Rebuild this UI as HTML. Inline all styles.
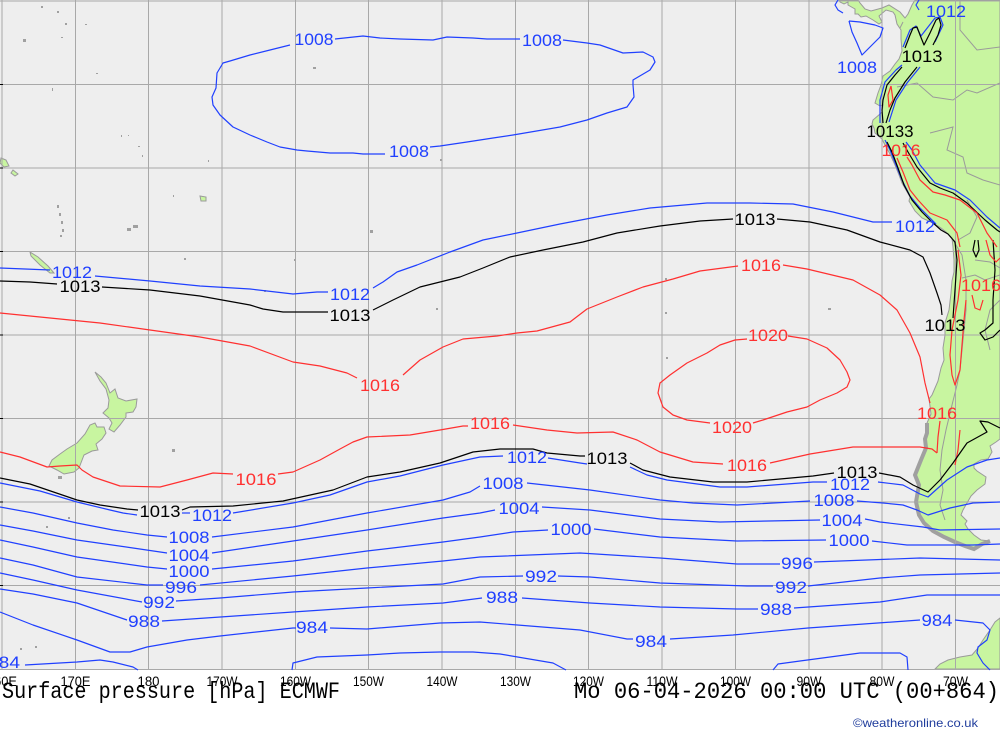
<!DOCTYPE html>
<html><head><meta charset="utf-8"><style>
html,body{margin:0;padding:0;background:#fff;}
svg{display:block;}
.g{stroke:#a8a8a8;stroke-width:1;fill:none;}
.b{stroke:#2040ff;stroke-width:1.2;fill:none;stroke-linejoin:round;}
.k{stroke:#000;stroke-width:1.2;fill:none;stroke-linejoin:round;}
.r{stroke:#ff3030;stroke-width:1.2;fill:none;stroke-linejoin:round;}
.c{stroke:#9a9a9a;stroke-width:1;fill:none;}
.lb{fill:#2040ff;font-family:"Liberation Sans",sans-serif;font-size:17px;}
.lk{fill:#000;font-family:"Liberation Sans",sans-serif;font-size:17px;}
.lr{fill:#ff3030;font-family:"Liberation Sans",sans-serif;font-size:17px;}
.tk{fill:#000;font-family:"Liberation Sans",sans-serif;font-size:14px;}
</style></head><body>
<svg width="1000" height="733" viewBox="0 0 1000 733" xmlns="http://www.w3.org/2000/svg">
<rect x="0" y="0" width="1000" height="733" fill="#fff"/>
<rect x="0" y="0" width="1000" height="670" fill="#eeeeee"/>

<!-- land -->
<g fill="#c8f5a0" stroke="#9a9a9a" stroke-width="1">
<polygon points="839,0 840,2 844,4 848,2 848,5 855,9 855,14 858,14 861,17 866,16 873,20 879,24 882,22 879,16 886,10 893,12 895,15 897,24 901,30 901,39 902,51 899,59 895,64 890,71 883,76 881,85 878,93 875,103 880,106 883,105 882,112 880,114 873,120 872,124 874,128 875,133 882,139 885,145 890,154 895,165 899,175 902,183 906,190 910,197 909,201 915,211 922,218 933,223 941,228 946,232 952,238 953,247 954,260 954,272 952,281 951,293 949,310 945,323 945,335 943,348 944,360 941,368 938,381 935,388 932,395 929,399 930,406 931,414 927,423 927,433 925,439 926,448 921,460 915,475 919,485 916,502 919,515 924,523 933,531 944,537 955,542 965,546 974,549 982,544 990,541 981,540 974,535 968,529 965,524 967,521 961,515 963,510 967,503 971,496 977,490 985,484 986,477 977,471 974,468 974,464 981,460 988,459 992,452 990,446 996,442 1000,439 1000,0 915,0 912,5 908,14 905,18 900,12 889,5 882,8 871,11 865,9 860,3 858,0"/>
<polygon points="95,372 101,377 106,383 110,393 115,389 118,398 126,401 137,399 136,407 133,412 126,413 126,417 120,425 114,432 109,429 112,423 109,418 103,413 108,408 109,400 106,389 100,381"/>
<polygon points="95,423 97,427 104,427 106,433 102,439 96,444 98,450 92,451 84,455 79,468 74,472 64,474 57,470 49,466 52,460 60,454 67,449 77,443 85,434 90,425"/>
<polygon points="1000,618 995,622 990,630 983,640 978,648 972,655 960,657 948,660 940,664 935,669 1000,669"/>
<polygon points="30,252 38,257 48,266 54,273 50,273 40,265 31,256"/>
<polygon points="1,158 6,160 9,166 4,167 0,163"/>
<polygon points="13,170 18,174 15,176 11,173"/>
<polygon points="200,196 206,197 206,201 201,201"/>
</g>
<polyline points="927,423 927,433 925,439 926,448 921,460 915,475 919,485 916,502 919,515 924,523 933,531 944,537 955,542 965,546 974,549 982,544 990,541" fill="none" stroke="#a0a0a0" stroke-width="4"/>
<g fill="#a0a0a0">
<rect x="41" y="6" width="2" height="2"/><rect x="57" y="11" width="2" height="2"/><rect x="65" y="23" width="2" height="2"/><rect x="61" y="37" width="2" height="1"/><rect x="23" y="39" width="3" height="3"/><rect x="85" y="24" width="2" height="1"/><rect x="52" y="88" width="1" height="3"/><rect x="96" y="73" width="2" height="1"/><rect x="121" y="135" width="1" height="2"/><rect x="128" y="135" width="1" height="1"/><rect x="138" y="146" width="2" height="1"/><rect x="142" y="155" width="1" height="2"/><rect x="208" y="160" width="1" height="2"/><rect x="173" y="195" width="1" height="2"/>
<rect x="57" y="205" width="2" height="3"/><rect x="59" y="213" width="2" height="3"/><rect x="61" y="221" width="2" height="3"/><rect x="62" y="229" width="2" height="3"/><rect x="60" y="235" width="2" height="2"/>
<rect x="127" y="228" width="4" height="3"/><rect x="133" y="225" width="5" height="3"/><rect x="184" y="258" width="2" height="2"/><rect x="294" y="259" width="2" height="2"/><rect x="370" y="230" width="3" height="3"/><rect x="440" y="159" width="2" height="2"/>
<rect x="313" y="67" width="3" height="2"/><rect x="172" y="449" width="3" height="3"/><rect x="58" y="476" width="4" height="3"/><rect x="46" y="526" width="2" height="2"/><rect x="68" y="517" width="2" height="2"/><rect x="35" y="646" width="2" height="2"/><rect x="20" y="648" width="2" height="2"/>
<rect x="264" y="290" width="2" height="2"/><rect x="436" y="308" width="2" height="2"/><rect x="665" y="312" width="2" height="2"/><rect x="665" y="278" width="2" height="2"/><rect x="828" y="308" width="3" height="2"/><rect x="666" y="357" width="2" height="2"/>
</g>
<!-- borders -->
<g class="c">
<polyline points="953,240 962,255 966,280 966,310 963,340 960,370 957,385 952,405 946,430 942,450 940,470 943,490 940,505 945,520"/>
<polyline points="962,278 975,275 985,280 1000,275"/>
<polyline points="975,260 990,262 1000,268"/>
<polyline points="967,200 977,217 970,233 958,240"/>
<polyline points="930,133 953,127 947,150 963,157 967,173 983,180 1000,185"/>
<polyline points="897,87 917,83 933,97 953,100 967,90 977,93 1000,83"/>
<polyline points="960,0 960,30 977,50 1000,47"/>
<polyline points="903,22 900,28"/>
<polyline points="1000,300 990,310 985,330 990,350"/>
</g>

<!-- grid -->
<g class="g">
<line x1="2" y1="0" x2="2" y2="670"/><line x1="75.5" y1="0" x2="75.5" y2="670"/><line x1="148.5" y1="0" x2="148.5" y2="670"/><line x1="222" y1="0" x2="222" y2="670"/><line x1="295.5" y1="0" x2="295.5" y2="670"/><line x1="368.5" y1="0" x2="368.5" y2="670"/><line x1="442" y1="0" x2="442" y2="670"/><line x1="515.5" y1="0" x2="515.5" y2="670"/><line x1="588.5" y1="0" x2="588.5" y2="670"/><line x1="662" y1="0" x2="662" y2="670"/><line x1="735.5" y1="0" x2="735.5" y2="670"/><line x1="809" y1="0" x2="809" y2="670"/><line x1="882" y1="0" x2="882" y2="670"/><line x1="955.5" y1="0" x2="955.5" y2="670"/>
<line x1="0" y1="1" x2="1000" y2="1"/><line x1="0" y1="84.5" x2="1000" y2="84.5"/><line x1="0" y1="168" x2="1000" y2="168"/><line x1="0" y1="251.5" x2="1000" y2="251.5"/><line x1="0" y1="335" x2="1000" y2="335"/><line x1="0" y1="418.5" x2="1000" y2="418.5"/><line x1="0" y1="502" x2="1000" y2="502"/><line x1="0" y1="585.5" x2="1000" y2="585.5"/><line x1="0" y1="669.5" x2="1000" y2="669.5"/>
</g>
<g stroke="#000" stroke-width="1">
<line x1="0" y1="84.5" x2="3" y2="84.5"/><line x1="0" y1="168" x2="3" y2="168"/><line x1="0" y1="251.5" x2="3" y2="251.5"/><line x1="0" y1="335" x2="3" y2="335"/><line x1="0" y1="418.5" x2="3" y2="418.5"/><line x1="0" y1="502" x2="3" y2="502"/><line x1="0" y1="585.5" x2="3" y2="585.5"/>
</g>

<!-- upper 1008 loop -->
<polyline class="b" points="335,39 363,36 380,38 400,39 433,40 447,37 473,38 487,39 520,39"/>
<polyline class="b" points="563,40 587,43 600,45 623,53 643,52 653,57 655,62 650,70 633,80 633,85 634,97 627,107 607,113 587,120 560,127 513,135 493,138 467,142 440,146 430,147"/>
<polyline class="b" points="385,154 363,154 353,153 330,153 307,151 297,150 280,147 267,142 250,135 233,127 220,115 213,105 212,97 216,88 217,73 223,63 230,61 250,55 270,50 290,45"/>
<!-- upper 1012 -->
<polyline class="b" points="0,268 50,270"/>
<polyline class="b" points="95,276 150,281 200,286 250,289 293,294 317,292 328,292"/>
<polyline class="b" points="373,288 383,282 397,272 417,265 450,252 483,240 517,233 560,224 607,215 650,208 707,203 750,203 793,204 833,212 873,222 892,222"/>
<polyline class="b" points="936,224 928,216 920,208 910,196 902,180 896,165 890,150 885,140"/>
<polyline class="b" points="1000,228 987,217 970,200 955,190 935,183 920,165 912,150 906,142"/>
<polyline class="b" points="880,123 880,100 885,82 896,70 902,65"/>
<polyline class="b" points="889,122 896,100 907,83 920,67"/>
<polyline class="b" points="903,47 910,30 916,26 921,36 935,18 940,17 943,25 935,42"/>
<polyline class="b" points="849,21 860,22 875,25 883,28 880,37 870,47 862,55 857,43 852,32 849,21"/>
<polyline class="b" points="838,0 835,5 838,10 843,13"/>
<polyline class="b" points="919,0 916,5 919,10"/>
<!-- upper 1013 -->
<polyline class="k" points="0,281 30,282 57,284"/>
<polyline class="k" points="102,287 150,290 200,296 250,305 263,309 283,312 328,312"/>
<polyline class="k" points="373,310 393,300 420,287 440,282 460,277 483,268 510,257 543,250 583,242 617,233 660,226 700,221 733,219"/>
<polyline class="k" points="777,219 810,222 847,230 880,242 910,250 923,257 930,273 937,293 941,305 942,315"/>
<polyline class="k" points="953,318 955,290 957,260 955,242 948,234 941,230 932,222 922,212 912,200 904,185 898,168 892,152 887,142"/>
<polyline class="k" points="1000,232 997,230 985,220 967,203 953,193 940,188 930,183 917,167 908,152 903,143"/>
<polyline class="k" points="883,123 882,110 883,100 887,85 895,75 902,67"/>
<polyline class="k" points="886,123 890,110 895,98 905,82 917,67"/>
<polyline class="k" points="905,48 910,35 913,28 917,27 920,35 924,45 930,33 936,20 939,18 941,25 938,35 933,45"/>
<polyline class="k" points="975,240 973,250 976,257 979,250 978,240"/>
<polyline class="k" points="993,240 995,270 993,300 993,323 985,330 980,333 985,340 993,337 1000,330"/>
<!-- upper 1016 -->
<polyline class="r" points="0,313 50,318 100,323 150,330 200,337 250,346 293,362 320,366 347,373 357,378"/>
<polyline class="r" points="403,375 420,360 443,347 463,339 497,336 517,333 537,331 570,322 587,309 617,297 643,287 673,279 700,271 738,266"/>
<polyline class="r" points="783,265 807,269 853,280 880,295 897,310 910,333 920,357 925,383 930,403"/>
<polyline class="r" points="940,421 938,437 937,453"/>
<polyline class="r" points="960,247 957,233 947,220 930,213 918,200 910,190 903,172 897,158"/>
<polyline class="r" points="997,247 987,233 977,213 960,200 945,195 933,192 920,180 912,165 907,157"/>
<polyline class="r" points="958,250 961,275 958,300 952,330 950,355 952,375 955,385 960,370 962,345 964,320 966,300"/>
<polyline class="r" points="972,295 975,308 980,310 983,300"/>
<polyline class="r" points="986,240 990,255 996,262 1000,258"/>
<polyline class="r" points="891,86 893,100 889,107 888,95 891,86"/>
<polyline class="r" points="960,430 958,450 955,465"/>
<!-- 1020 -->
<polyline class="r" points="788,336 807,339 827,348 840,360 847,372 850,380 847,387 837,393 820,400 807,407 787,412 763,420 753,423"/>
<polyline class="r" points="710,423 687,420 673,415 663,407 658,393 660,383 670,375 687,363 707,353 720,345 735,340 747,339"/>
<!-- lower 1016 -->
<polyline class="r" points="0,452 20,457 47,467 60,466 77,465 82,470 93,477 120,486 160,487 187,480 213,473 233,474"/>
<polyline class="r" points="278,474 293,472 320,460 340,449 353,442 367,437 410,435 440,430 463,426 468,426"/>
<polyline class="r" points="513,425 547,430 577,433 613,432 637,440 660,452 693,462 723,464"/>
<polyline class="r" points="770,463 810,454 853,447 880,447 920,447 932,449 937,453"/>
<!-- lower 1013 -->
<polyline class="k" points="0,478 30,484 77,500 100,505 127,509 138,510"/>
<polyline class="k" points="182,510 190,507 233,506 283,501 333,490 367,477 400,472 440,463 473,452 500,449 533,449 547,453 580,456 585,456"/>
<polyline class="k" points="630,463 643,470 670,477 713,482 747,482 780,479 813,476 834,473"/>
<polyline class="k" points="879,473 900,477 913,485 928,492 940,480 953,463 967,443 987,432 980,421 988,422 1000,428"/>
<!-- lower 1012 -->
<polyline class="b" points="0,483 40,491 77,502 110,510 123,513 137,515"/>
<polyline class="b" points="182,513 190,513"/>
<polyline class="b" points="233,513 293,503 330,495 367,482 400,476 443,465 480,457 503,456"/>
<polyline class="b" points="548,458 580,463 587,464"/>
<polyline class="b" points="630,467 647,475 667,480 720,487 747,487 813,482 827,482"/>
<polyline class="b" points="878,482 903,485 920,494 928,497 947,480 967,467 987,460 1000,458"/>
<!-- 1008 -->
<polyline class="b" points="0,507 33,513 77,523 113,530 147,535 167,537"/>
<polyline class="b" points="212,537 293,527 367,513 443,500 470,492 480,486"/>
<polyline class="b" points="527,483 590,490 660,500 693,503 737,505 810,501"/>
<polyline class="b" points="857,501 883,503 903,505 917,510 928,515 950,508 973,503 1000,502"/>
<!-- 1004 -->
<polyline class="b" points="0,525 33,531 77,540 133,548 167,553"/>
<polyline class="b" points="212,553 293,541 367,530 443,518 480,513 495,510"/>
<polyline class="b" points="542,507 590,510 660,519 720,522 820,520"/>
<polyline class="b" points="865,519 880,522 923,527 940,530 1000,529"/>
<!-- 1000 -->
<polyline class="b" points="0,540 33,547 77,557 147,567 167,569"/>
<polyline class="b" points="212,569 293,561 367,551 443,542 480,537 513,532 548,530"/>
<polyline class="b" points="594,529 660,537 737,541 826,540"/>
<polyline class="b" points="872,541 907,545 973,545 1000,544"/>
<!-- 996 -->
<polyline class="b" points="0,558 33,565 77,577 147,585 163,585"/>
<polyline class="b" points="200,585 293,576 367,568 443,561 480,557 580,553 660,558 737,564 780,564"/>
<polyline class="b" points="814,562 920,558 1000,560"/>
<!-- 992 -->
<polyline class="b" points="0,573 33,580 77,590 142,602"/>
<polyline class="b" points="176,601 220,598 293,592 367,588 443,584 480,577 523,576"/>
<polyline class="b" points="558,576 590,577 660,583 747,586 773,586"/>
<polyline class="b" points="808,586 880,578 920,575 1000,573"/>
<!-- 988 -->
<polyline class="b" points="0,589 33,594 77,603 127,620"/>
<polyline class="b" points="162,621 293,612 367,607 443,603 482,598"/>
<polyline class="b" points="522,598 590,603 660,607 737,609 758,609"/>
<polyline class="b" points="794,608 880,602 927,595 1000,595"/>
<!-- 984 -->
<polyline class="b" points="0,612 33,625 77,640 110,652 130,652 147,647 187,640 220,636 293,628 296,628"/>
<polyline class="b" points="330,628 367,629 440,623 480,622 580,630 627,639 633,639"/>
<polyline class="b" points="670,639 733,635 808,628 920,620"/>
<polyline class="b" points="955,620 983,623 990,630 987,640 978,647 977,653 983,663 990,670"/>
<!-- 980 -->
<polyline class="b" points="25,665 77,662 100,660 113,662 133,667 138,670"/>
<polyline class="b" points="292,670 293,663 317,657 367,655 400,653 440,652 473,652 500,654 553,663 566,670"/>
<polyline class="b" points="773,670 778,664 800,661 860,653 900,653 907,657 908,670"/>

<!-- labels -->
<g class="lb" text-anchor="middle" lengthAdjust="spacingAndGlyphs">
<text x="314" y="45" textLength="39" lengthAdjust="spacingAndGlyphs">1008</text>
<text x="542" y="46" textLength="40" lengthAdjust="spacingAndGlyphs">1008</text>
<text x="409" y="157" textLength="40" lengthAdjust="spacingAndGlyphs">1008</text>
<text x="857" y="73" textLength="40" lengthAdjust="spacingAndGlyphs">1008</text>
<text x="946" y="17" textLength="40" lengthAdjust="spacingAndGlyphs">1012</text>
<text x="72" y="278" textLength="40" lengthAdjust="spacingAndGlyphs">1012</text>
<text x="350" y="300" textLength="40" lengthAdjust="spacingAndGlyphs">1012</text>
<text x="915" y="232" textLength="40" lengthAdjust="spacingAndGlyphs">1012</text>
<text x="212" y="521" textLength="40" lengthAdjust="spacingAndGlyphs">1012</text>
<text x="527" y="463" textLength="40" lengthAdjust="spacingAndGlyphs">1012</text>
<text x="850" y="490" textLength="40" lengthAdjust="spacingAndGlyphs">1012</text>
<text x="189" y="543" textLength="41" lengthAdjust="spacingAndGlyphs">1008</text>
<text x="503" y="489" textLength="41" lengthAdjust="spacingAndGlyphs">1008</text>
<text x="834" y="506" textLength="41" lengthAdjust="spacingAndGlyphs">1008</text>
<text x="189" y="561" textLength="41" lengthAdjust="spacingAndGlyphs">1004</text>
<text x="519" y="514" textLength="41" lengthAdjust="spacingAndGlyphs">1004</text>
<text x="842" y="526" textLength="41" lengthAdjust="spacingAndGlyphs">1004</text>
<text x="189" y="577" textLength="41" lengthAdjust="spacingAndGlyphs">1000</text>
<text x="571" y="535" textLength="41" lengthAdjust="spacingAndGlyphs">1000</text>
<text x="849" y="546" textLength="41" lengthAdjust="spacingAndGlyphs">1000</text>
<text x="181" y="593" textLength="32" lengthAdjust="spacingAndGlyphs">996</text>
<text x="797" y="569" textLength="32" lengthAdjust="spacingAndGlyphs">996</text>
<text x="159" y="608" textLength="32" lengthAdjust="spacingAndGlyphs">992</text>
<text x="541" y="582" textLength="32" lengthAdjust="spacingAndGlyphs">992</text>
<text x="791" y="593" textLength="32" lengthAdjust="spacingAndGlyphs">992</text>
<text x="144" y="627" textLength="32" lengthAdjust="spacingAndGlyphs">988</text>
<text x="502" y="603" textLength="32" lengthAdjust="spacingAndGlyphs">988</text>
<text x="776" y="615" textLength="32" lengthAdjust="spacingAndGlyphs">988</text>
<text x="312" y="633" textLength="32" lengthAdjust="spacingAndGlyphs">984</text>
<text x="651" y="647" textLength="32" lengthAdjust="spacingAndGlyphs">984</text>
<text x="937" y="626" textLength="31" lengthAdjust="spacingAndGlyphs">984</text>
<text x="4" y="668" textLength="32" lengthAdjust="spacingAndGlyphs">984</text>
</g>
<rect x="836" y="465" width="42" height="13" fill="#eeeeee"/>
<g class="lk" text-anchor="middle">
<text x="80" y="292" textLength="41" lengthAdjust="spacingAndGlyphs">1013</text>
<text x="350" y="321" textLength="41" lengthAdjust="spacingAndGlyphs">1013</text>
<text x="755" y="225" textLength="41" lengthAdjust="spacingAndGlyphs">1013</text>
<text x="945" y="331" textLength="41" lengthAdjust="spacingAndGlyphs">1013</text>
<text x="922" y="62" textLength="41" lengthAdjust="spacingAndGlyphs">1013</text>
<text x="890" y="137" textLength="47" lengthAdjust="spacingAndGlyphs">10133</text>
<text x="160" y="517" textLength="41" lengthAdjust="spacingAndGlyphs">1013</text>
<text x="607" y="464" textLength="41" lengthAdjust="spacingAndGlyphs">1013</text>
<text x="857" y="478" textLength="41" lengthAdjust="spacingAndGlyphs">1013</text>
</g>
<g class="lr" text-anchor="middle">
<text x="380" y="391" textLength="40" lengthAdjust="spacingAndGlyphs">1016</text>
<text x="761" y="271" textLength="40" lengthAdjust="spacingAndGlyphs">1016</text>
<text x="937" y="419" textLength="40" lengthAdjust="spacingAndGlyphs">1016</text>
<text x="901" y="156" textLength="39" lengthAdjust="spacingAndGlyphs">1016</text>
<text x="981" y="291" textLength="40" lengthAdjust="spacingAndGlyphs">1016</text>
<text x="256" y="485" textLength="41" lengthAdjust="spacingAndGlyphs">1016</text>
<text x="490" y="429" textLength="40" lengthAdjust="spacingAndGlyphs">1016</text>
<text x="747" y="471" textLength="40" lengthAdjust="spacingAndGlyphs">1016</text>
<text x="768" y="341" textLength="40" lengthAdjust="spacingAndGlyphs">1020</text>
<text x="732" y="433" textLength="40" lengthAdjust="spacingAndGlyphs">1020</text>
</g>

<!-- axis tick labels -->
<g class="tk" text-anchor="middle">
<text x="2" y="686" textLength="30" lengthAdjust="spacingAndGlyphs">160E</text>
<text x="75.5" y="686" textLength="30" lengthAdjust="spacingAndGlyphs">170E</text>
<text x="148.5" y="686" textLength="22" lengthAdjust="spacingAndGlyphs">180</text>
<text x="222" y="686" textLength="31" lengthAdjust="spacingAndGlyphs">170W</text>
<text x="295.5" y="686" textLength="31" lengthAdjust="spacingAndGlyphs">160W</text>
<text x="368.5" y="686" textLength="31" lengthAdjust="spacingAndGlyphs">150W</text>
<text x="442" y="686" textLength="31" lengthAdjust="spacingAndGlyphs">140W</text>
<text x="515.5" y="686" textLength="31" lengthAdjust="spacingAndGlyphs">130W</text>
<text x="588.5" y="686" textLength="31" lengthAdjust="spacingAndGlyphs">120W</text>
<text x="662" y="686" textLength="31" lengthAdjust="spacingAndGlyphs">110W</text>
<text x="735.5" y="686" textLength="31" lengthAdjust="spacingAndGlyphs">100W</text>
<text x="809" y="686" textLength="25" lengthAdjust="spacingAndGlyphs">90W</text>
<text x="882" y="686" textLength="25" lengthAdjust="spacingAndGlyphs">80W</text>
<text x="955.5" y="686" textLength="25" lengthAdjust="spacingAndGlyphs">70W</text>
</g>
<text x="2" y="698" font-family="'Liberation Mono',monospace" font-size="23" fill="#000" textLength="338" lengthAdjust="spacingAndGlyphs">Surface pressure [hPa] ECMWF</text>
<text x="574" y="698" font-family="'Liberation Mono',monospace" font-size="23" fill="#000" textLength="425" lengthAdjust="spacingAndGlyphs">Mo 06-04-2026 00:00 UTC (00+864)</text>
<text x="853" y="727" font-family="'Liberation Sans',sans-serif" font-size="12" fill="#1f3c9c" textLength="125" lengthAdjust="spacingAndGlyphs">©weatheronline.co.uk</text>
</svg>
</body></html>
